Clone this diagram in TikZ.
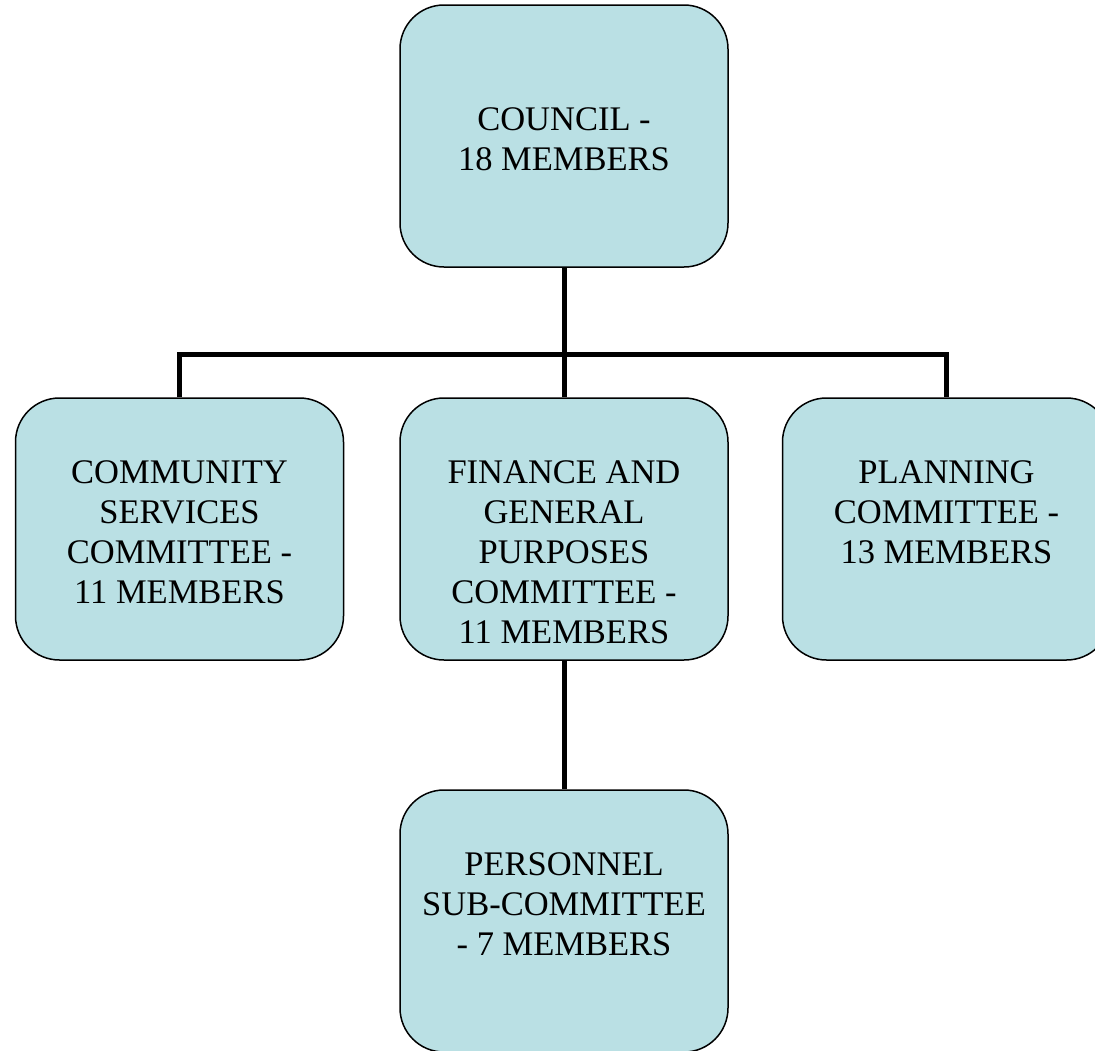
\documentclass[tikz,border=0pt]{standalone}
\usepackage{fontspec}
\setmainfont{Liberation Serif}
\usetikzlibrary{positioning}
\definecolor{boxblue}{RGB}{186,224,228}

\begin{document}
\begin{tikzpicture}[x=1pt, y=-1pt,
        unit/.style={draw, line width=1.5pt, fill=boxblue, rounded corners=44pt,
            minimum width=328pt, minimum height=262pt, inner sep=0pt},
        words/.style={align=center, inner sep=0pt,
            font=\fontsize{34.5}{40}\selectfont},
        link/.style={line width=5pt}]
        \useasboundingbox (0,0) rectangle (1095,1050);

        \node[unit] (council) at (564,136) {};
        \node[unit] (community) at (179.5,529) {};
        \node[unit] (finance) at (564,529) {};
        \node[unit] (planning) at (946.5,529) {};
        \node[unit] (personnel) at (564,921) {};

        \node[words, below=103.5pt of council.north] (councilT) {COUNCIL -\\18 MEMBERS};
        \node[words, below=63pt of community.north] (communityT) {COMMUNITY\\SERVICES\\COMMITTEE -\\11 MEMBERS};
        \node[words, below=63pt of finance.north] (financeT) {FINANCE AND\\GENERAL\\PURPOSES\\COMMITTEE -\\11 MEMBERS};
        \node[words, below=63pt of planning.north] (planningT) {PLANNING\\COMMITTEE -\\13 MEMBERS};
        \node[words, below=63pt of personnel.north] (personnelT) {PERSONNEL\\SUB-COMMITTEE\\- 7 MEMBERS};

        \coordinate (bus) at (564,354);

        \draw[link] (council) -- (finance);
        \draw[link] (community.north) -- (community.north |- bus) -- (planning.north |- bus) -- (planning.north);
        \draw[link] (finance) -- (personnel);
    \end{tikzpicture}
\end{document}
